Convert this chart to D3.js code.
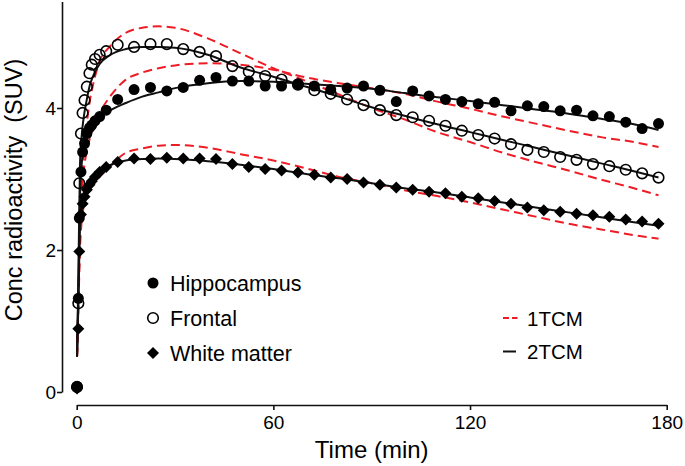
<!DOCTYPE html>
<html>
<head>
<meta charset="utf-8">
<script src="https://cdn.jsdelivr.net/npm/d3@7"></script>
<style>
  html, body { margin: 0; padding: 0; background: #fff; }
  svg { display: block; font-family: "Liberation Sans", Arial, sans-serif; }
</style>
</head>
<body>
<div id="chart"></div>
<script>
// frame mid-times (min) and measured concentrations (SUV)
const frameTimes = [0.1, 0.5, 0.8, 1.3, 1.8, 2.4, 3.1, 3.9, 4.6, 5.6, 7.0, 9.0,
  12.5, 17.5, 22.5, 27.5, 32.5, 37.5, 42.5, 47.5, 52.5, 57.5,
  62.5, 67.5, 72.5, 77.5, 82.5, 87.5, 92.5, 97.5, 102.5, 107.5,
  112.5, 117.5, 122.5, 127.5, 132.5, 137.5, 142.5, 147.5, 152.5, 157.5,
  162.5, 167.5, 172.5, 177.5];

const hippocampus = [0.08, 1.32, 2.45, 3.10, 3.38, 3.50, 3.64, 3.72, 3.76, 3.82, 3.88, 3.97,
  4.12, 4.26, 4.29, 4.24, 4.29, 4.39, 4.43, 4.38, 4.38, 4.31,
  4.31, 4.34, 4.31, 4.26, 4.28, 4.31, 4.25, 4.09, 4.24, 4.17,
  4.12, 4.09, 4.06, 4.08, 3.96, 4.03, 4.02, 3.96, 3.97, 3.89,
  3.88, 3.80, 3.71, 3.78];

const frontal = [0.07, 1.25, 2.94, 3.64, 3.93, 4.11, 4.30, 4.49, 4.61, 4.69, 4.75, 4.80,
  4.89, 4.86, 4.90, 4.90, 4.83, 4.79, 4.73, 4.59, 4.51, 4.45,
  4.40, 4.33, 4.25, 4.20, 4.12, 4.04, 3.97, 3.90, 3.87, 3.82,
  3.75, 3.68, 3.62, 3.57, 3.49, 3.41, 3.38, 3.31, 3.27, 3.21,
  3.18, 3.13, 3.08, 3.02];

const whiteMatter = [0.05, 0.89, 1.98, 2.50, 2.65, 2.75, 2.85, 2.92, 2.97, 3.03, 3.10, 3.17,
  3.24, 3.29, 3.28, 3.30, 3.29, 3.29, 3.28, 3.21, 3.17, 3.14,
  3.12, 3.09, 3.06, 3.02, 3.00, 2.95, 2.92, 2.88, 2.85, 2.82,
  2.80, 2.75, 2.73, 2.69, 2.65, 2.60, 2.56, 2.54, 2.51, 2.49,
  2.47, 2.43, 2.40, 2.37];

// model fits
const fitTimes = [0.1, 0.5, 1, 1.5, 2, 3, 4, 5, 7, 10, 15, 20, 25, 30, 40, 50,
  60, 70, 80, 90, 100, 110, 120, 130, 140, 150, 160, 170, 177.5];

const hippocampus2TCM = [0.5, 1.4, 2.75, 3.2, 3.4, 3.58, 3.68, 3.75, 3.86, 3.96, 4.07, 4.16, 4.22, 4.28, 4.35, 4.38,
  4.37, 4.34, 4.31, 4.27, 4.21, 4.15, 4.10, 4.04, 3.98, 3.92, 3.85, 3.77, 3.69];
const hippocampus1TCM = [0.5, 1.3, 2.2, 2.75, 3.05, 3.38, 3.57, 3.72, 3.93, 4.15, 4.40, 4.50, 4.56, 4.60, 4.63, 4.61,
  4.54, 4.43, 4.35, 4.28, 4.20, 4.09, 3.99, 3.88, 3.78, 3.68, 3.59, 3.52, 3.45];
const frontal2TCM = [0.5, 1.6, 3.2, 3.6, 3.82, 4.10, 4.32, 4.45, 4.62, 4.74, 4.83, 4.86, 4.86, 4.85, 4.75, 4.57,
  4.44, 4.30, 4.16, 4.01, 3.89, 3.77, 3.66, 3.55, 3.44, 3.33, 3.22, 3.11, 3.02];
const frontal1TCM = [0.5, 1.3, 2.3, 2.9, 3.3, 3.75, 4.1, 4.33, 4.66, 4.86, 5.06, 5.13, 5.15, 5.13, 4.98, 4.77,
  4.56, 4.38, 4.19, 4.00, 3.84, 3.66, 3.52, 3.37, 3.24, 3.12, 2.99, 2.87, 2.77];
const whiteMatter2TCM = [0.5, 1.2, 2.3, 2.58, 2.7, 2.85, 2.93, 2.99, 3.10, 3.19, 3.26, 3.28, 3.29, 3.28, 3.25, 3.20,
  3.14, 3.07, 3.01, 2.94, 2.87, 2.81, 2.74, 2.67, 2.60, 2.53, 2.46, 2.39, 2.34];
const whiteMatter1TCM = [0.5, 1.15, 2.0, 2.4, 2.58, 2.75, 2.85, 2.92, 3.03, 3.17, 3.37, 3.43, 3.47, 3.48, 3.44, 3.35,
  3.26, 3.15, 3.03, 2.94, 2.84, 2.76, 2.67, 2.57, 2.47, 2.37, 2.29, 2.21, 2.16];

const xTicks = [0, 60, 120, 180];
const yTicks = [0, 2, 4];
const regionLabels = ["Hippocampus", "Frontal", "White matter"];
const modelLabels = ["1TCM", "2TCM"];

const width = 685;
const height = 466;
const INK = "#111";
const RED = "#ee1c25";

const x = d3.scaleLinear().domain([0, 180]).range([76.7, 666.7]);
const y = d3.scaleLinear().domain([0, 5.5]).range([392, 1.5]);

const svg = d3.select("#chart").append("svg")
  .attr("width", width)
  .attr("height", height)
  .attr("viewBox", [0, 0, width, height]);

// axes (detached, prism style)
const xAxis = svg.append("g")
  .attr("transform", "translate(0,405)")
  .call(d3.axisBottom(x).tickValues(xTicks).tickFormat(d3.format("d"))
    .tickSize(5).tickSizeOuter(0).tickPadding(6));

const yAxis = svg.append("g")
  .attr("transform", "translate(62,0)")
  .call(d3.axisLeft(y).tickValues(yTicks).tickFormat(d3.format("d"))
    .tickSize(5).tickSizeOuter(0).tickPadding(1));

for (const axis of [xAxis, yAxis]) {
  axis.select(".domain").attr("stroke", INK).attr("stroke-width", 1.6);
  axis.selectAll(".tick line").attr("stroke", INK).attr("stroke-width", 1.6);
  axis.selectAll(".tick text")
    .attr("fill", "#000")
    .style("font-family", "'Liberation Sans', Arial, sans-serif")
    .style("font-size", "19px");
}

svg.append("text")
  .attr("x", x(90))
  .attr("y", 458)
  .attr("text-anchor", "middle")
  .style("font-size", "24px")
  .text("Time (min)");

svg.append("text")
  .attr("transform", "translate(22,190) rotate(-90)")
  .attr("text-anchor", "middle")
  .style("font-size", "23.5px")
  .text("Conc radioactivity\u00a0 (SUV)");

// fitted curves
const fitLine = d3.line()
  .x((d) => x(d[0]))
  .y((d) => y(d[1]))
  .curve(d3.curveMonotoneX);

const fits = [
  { values: hippocampus1TCM, model: "1TCM" },
  { values: frontal1TCM, model: "1TCM" },
  { values: whiteMatter1TCM, model: "1TCM" },
  { values: hippocampus2TCM, model: "2TCM" },
  { values: frontal2TCM, model: "2TCM" },
  { values: whiteMatter2TCM, model: "2TCM" },
];

svg.append("g")
  .selectAll("path")
  .data(fits)
  .join("path")
  .attr("fill", "none")
  .attr("stroke", (d) => (d.model === "1TCM" ? RED : INK))
  .attr("stroke-width", 2)
  .attr("stroke-dasharray", (d) => (d.model === "1TCM" ? "9 5" : null))
  .attr("d", (d) => fitLine(fitTimes.map((t, i) => [t, d.values[i]])));

// measured points
const diamond = "M0,-6L6,0L0,6L-6,0Z";

function drawMarker(group, kind) {
  if (kind === "Hippocampus") {
    group.append("circle").attr("r", 5.5).attr("fill", "#000");
  } else if (kind === "Frontal") {
    group.append("circle").attr("r", 5.3).attr("fill", "none")
      .attr("stroke", "#000").attr("stroke-width", 1.6);
  } else {
    group.append("path").attr("d", diamond).attr("fill", "#000");
  }
}

const series = [
  { name: "White matter", values: whiteMatter },
  { name: "Hippocampus", values: hippocampus },
  { name: "Frontal", values: frontal },
];

for (const s of series) {
  const points = svg.append("g")
    .selectAll("g")
    .data(frameTimes.map((t, i) => [t, s.values[i]]))
    .join("g")
    .attr("transform", (d) => `translate(${x(d[0])},${y(d[1])})`);
  points.each(function (d) { drawMarker(d3.select(this), s.name); });
}

// legends
const regionLegend = svg.append("g")
  .selectAll("g")
  .data(regionLabels)
  .join("g")
  .attr("transform", (d, i) => `translate(153,${283 + i * 35})`);

regionLegend.each(function (d) { drawMarker(d3.select(this), d); });

regionLegend.append("text")
  .attr("x", 17)
  .attr("y", 7.6)
  .style("font-size", "21.5px")
  .text((d) => d);

const modelLegend = svg.append("g")
  .selectAll("g")
  .data(modelLabels)
  .join("g")
  .attr("transform", (d, i) => `translate(503,${318 + i * 33.5})`);

modelLegend.append("line")
  .attr("x1", 0)
  .attr("x2", (d) => (d === "1TCM" ? 14.5 : 13))
  .attr("stroke", (d) => (d === "1TCM" ? RED : INK))
  .attr("stroke-width", 2)
  .attr("stroke-dasharray", (d) => (d === "1TCM" ? "6 3" : null));

modelLegend.append("text")
  .attr("x", 24)
  .attr("y", 7.7)
  .style("font-size", "20.5px")
  .text((d) => d);
</script>
</body>
</html>
